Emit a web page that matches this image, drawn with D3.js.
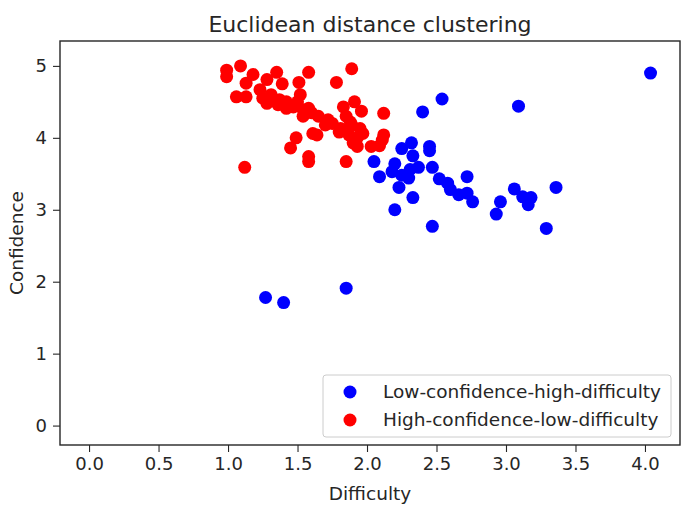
<!DOCTYPE html>
<html><head><meta charset="utf-8">
<script src="https://cdn.jsdelivr.net/npm/d3@7/dist/d3.min.js"></script>
<style>body{margin:0;background:#fff}svg{display:block;font-family:"DejaVu Sans",sans-serif}</style>
</head><body><svg id="c" width="700" height="513"></svg>
<script>
const xTicks = [0,0.5,1.0,1.5,2.0,2.5,3.0,3.5,4.0];
const yTicks = [0,1,2,3,4,5];
const seriesNames = ["Low-confidence-high-difficulty","High-confidence-low-difficulty"];
const seriesColors = ["#0000ff","#ff0000"];
const blueX = [2.54,2.40,3.09,2.32,2.25,2.45,2.45,2.05,2.33,2.20,2.37,2.31,2.47,2.18,2.25,2.09,2.30,2.72,2.52,2.23,2.58,2.60,2.33,2.66,2.72,2.76,3.06,3.12,3.18,3.16,3.36,2.96,2.93,2.20,2.47,3.29,4.04,1.27,1.40,1.85];
const blueY = [4.54,4.36,4.44,3.93,3.85,3.88,3.82,3.67,3.75,3.64,3.59,3.56,3.59,3.53,3.48,3.46,3.44,3.46,3.43,3.31,3.37,3.28,3.17,3.21,3.23,3.11,3.29,3.18,3.17,3.07,3.31,3.11,2.94,3.00,2.77,2.74,4.90,1.78,1.71,1.91];
const redX = [0.99,0.99,1.09,1.18,1.35,1.58,1.89,1.78,1.51,1.13,1.28,1.39,1.06,1.13,1.23,1.31,1.28,1.37,1.52,1.47,1.42,1.54,1.58,1.54,1.65,1.72,1.70,1.83,1.91,1.96,1.85,1.89,1.81,1.95,1.87,1.93,1.97,1.90,1.93,2.12,2.12,2.11,2.03,2.09,1.64,1.61,1.49,1.45,1.58,1.58,1.85,1.12,1.25,1.42,1.60,1.75,1.80,1.88,1.36,1.50];
const redY = [4.94,4.85,5.00,4.88,4.91,4.91,4.96,4.77,4.77,4.76,4.81,4.75,4.57,4.57,4.67,4.60,4.48,4.53,4.60,4.43,4.41,4.39,4.41,4.30,4.30,4.25,4.18,4.43,4.50,4.37,4.30,4.18,4.13,4.13,4.04,4.00,4.06,3.93,3.88,4.34,4.04,3.97,3.88,3.89,4.04,4.06,4.00,3.86,3.74,3.67,3.67,3.59,4.55,4.50,4.35,4.20,4.08,4.22,4.46,4.50];

const svg = d3.select("#c");
const L=60,R=680,T=41,B=445;
const x = d3.scaleLinear().domain([-0.209,4.252]).range([L,R]);
const y = d3.scaleLinear().domain([-0.27,5.346]).range([B,T]);

const blue = blueX.map((v,i)=>({x:v,y:blueY[i]}));
const red = redX.map((v,i)=>({x:v,y:redY[i]}));
const g = svg.append("g");
g.selectAll("circle.b").data(blue).join("circle").attr("class","b")
 .attr("cx",d=>x(d.x)).attr("cy",d=>y(d.y)).attr("r",6.5).attr("fill",seriesColors[0]);
g.selectAll("circle.r").data(red).join("circle").attr("class","r")
 .attr("cx",d=>x(d.x)).attr("cy",d=>y(d.y)).attr("r",6.5).attr("fill",seriesColors[1]);

const xa = svg.append("g").attr("transform",`translate(0,${B})`)
 .call(d3.axisBottom(x).tickValues(xTicks).tickFormat(d3.format(".1f")).tickSizeOuter(0).tickSize(7).tickPadding(5));
const ya = svg.append("g").attr("transform",`translate(${L},0)`)
 .call(d3.axisLeft(y).tickValues(yTicks).tickFormat(d3.format("d")).tickSizeOuter(0).tickSize(7).tickPadding(6));
[xa,ya].forEach(a=>{a.select(".domain").remove();
 a.selectAll("text").attr("font-size","18px").attr("fill","#262626").attr("font-family","DejaVu Sans");
 a.selectAll("line").attr("stroke","#262626").attr("stroke-width",1.1);});
svg.append("rect").attr("x",L).attr("y",T).attr("width",R-L).attr("height",B-T)
 .attr("fill","none").attr("stroke","#262626").attr("stroke-width",1.4);

svg.append("text").attr("x",(L+R)/2).attr("y",32).attr("text-anchor","middle")
 .attr("font-size","22px").attr("fill","#262626").text("Euclidean distance clustering");
svg.append("text").attr("x",(L+R)/2).attr("y",500).attr("text-anchor","middle")
 .attr("font-size","18.5px").attr("fill","#262626").text("Difficulty");
svg.append("text").attr("transform",`translate(23,${(T+B)/2}) rotate(-90)`).attr("text-anchor","middle")
 .attr("font-size","18.5px").attr("fill","#262626").text("Confidence");

const lg = svg.append("g");
lg.append("rect").attr("x",323).attr("y",375).attr("width",348).attr("height",62).attr("rx",3)
 .attr("fill","#fff").attr("fill-opacity",0.8).attr("stroke","#cccccc").attr("stroke-width",1);
seriesNames.forEach((n,i)=>{
 lg.append("circle").attr("cx",350).attr("cy",392+i*28).attr("r",6.5).attr("fill",seriesColors[i]);
 lg.append("text").attr("x",383).attr("y",392+i*28).attr("dy","0.35em").attr("font-size","18.5px").attr("fill","#262626").text(n);
});
</script></body></html>
